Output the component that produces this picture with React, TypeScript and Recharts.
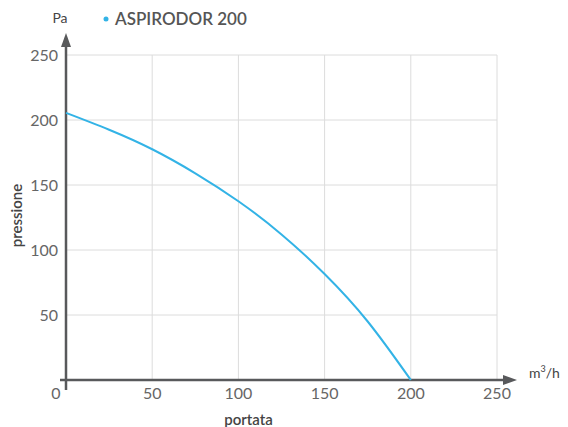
import React from "react";
import {
  CartesianGrid,
  Line,
  LineChart,
  XAxis,
  YAxis,
  usePlotArea,
} from "recharts";

const FLOW = [0, 25, 50, 75, 100, 125, 150, 175, 200];
const PRESSURE = [205.5, 192.5, 177.5, 159, 137.5, 112, 81.5, 45, 0];
const X_TICKS = [0, 50, 100, 150, 200, 250];
const Y_TICKS = [50, 100, 150, 200, 250];
const SERIES_NAME = "ASPIRODOR 200";

const data = FLOW.map((q, i) => ({ q, p: PRESSURE[i] }));

const AXIS = "#58595b";
const TEXT = "#666666";
const BLUE = "#33b3e6";
const FONT = "Lato, 'Open Sans', sans-serif";

function Arrows() {
  const area = usePlotArea();
  if (!area) return null;
  const { x, y, width, height } = area;
  const bottom = y + height;
  const right = x + width + 20;
  const top = y - 22;
  return (
    <g>
      <line x1={x - 6} y1={bottom} x2={right - 6} y2={bottom} stroke={AXIS} strokeWidth={2.5} />
      <polygon points={`${right},${bottom} ${right - 14},${bottom - 5} ${right - 14},${bottom + 5}`} fill={AXIS} />
      <line x1={x} y1={bottom + 10} x2={x} y2={top + 6} stroke={AXIS} strokeWidth={2.5} />
      <polygon points={`${x},${top} ${x - 5},${top + 14} ${x + 5},${top + 14}`} fill={AXIS} />
      <text x={x - 6} y={top - 10} textAnchor="middle" fontSize={14} fill="#444" fontFamily={FONT}>
        Pa
      </text>
      <text x={right + 12} y={bottom - 2} fontSize={14} fill="#444" fontFamily={FONT}>
        m<tspan fontSize={9} dy={-6}>3</tspan>
        <tspan dy={6}>/h</tspan>
      </text>
      <text x={x + width / 2 - 33} y={bottom + 45} textAnchor="middle" fontSize={15} fontWeight={600} fill="#444" fontFamily={FONT}>
        portata
      </text>
      <text
        transform={`translate(22, ${y + height / 2 - 2}) rotate(-90)`}
        textAnchor="middle"
        fontSize={15}
        fontWeight={600}
        fill="#444"
        fontFamily={FONT}
      >
        pressione
      </text>
      <circle cx={x + 40} cy={top - 14} r={2.5} fill={BLUE} />
      <text x={x + 49} y={top - 8} fontSize={17} fontWeight={600} fill="#555" fontFamily={FONT}>
        {SERIES_NAME}
      </text>
    </g>
  );
}

function XTick(props: any) {
  const { x, y, payload } = props;
  const dx = payload.value === 0 ? -10 : 0;
  return (
    <text x={x + dx} y={y} dy="0.71em" textAnchor="middle" fontSize={16} fill={TEXT} fontFamily={FONT}>
      {payload.value}
    </text>
  );
}

export default function App() {
  return (
    <div style={{ position: "absolute", left: 0, top: 0, width: 568, height: 427, background: "#fff" }}>
      <LineChart width={568} height={427} data={data} margin={{ top: 55, right: 71, bottom: 0, left: 0 }}>
        <CartesianGrid stroke="#dcdcdc" strokeWidth={1} />
        <XAxis
          dataKey="q"
          type="number"
          domain={[0, 250]}
          ticks={X_TICKS}
          axisLine={false}
          tickLine={false}
          tick={<XTick />}
          height={47}
          interval={0}
        />
        <YAxis
          type="number"
          domain={[0, 250]}
          ticks={Y_TICKS}
          axisLine={false}
          tickLine={false}
          width={66}
          tick={{ fontSize: 16, fill: TEXT, fontFamily: FONT }}
          interval={0}
        />
        <Line
          type="natural"
          dataKey="p"
          stroke={BLUE}
          strokeWidth={2}
          dot={false}
          isAnimationActive={false}
        />
        <Arrows />
      </LineChart>
    </div>
  );
}
